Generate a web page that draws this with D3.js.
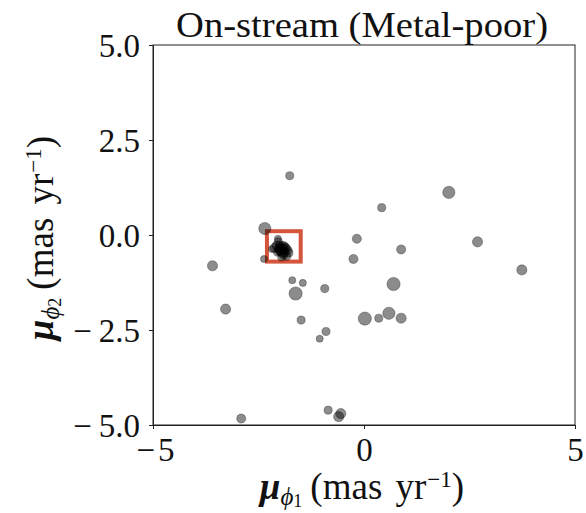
<!DOCTYPE html>
<html>
<head>
<meta charset="utf-8">
<script src="https://cdn.jsdelivr.net/npm/d3@7"></script>
<style>
  html, body { margin: 0; padding: 0; background: #fff; }
  svg text { font-family: "Liberation Serif", "DejaVu Serif", serif; fill: #111; }
</style>
</head>
<body>
<svg id="chart" width="586" height="513"></svg>
<script>
// Proper-motion components of member candidates (mas/yr)
const pmPhi1 = [
  -1.76, -2.35, -3.59, -2.04, -2.18, -2.37,
  -1.70, -1.45, -1.62, -0.93, -3.28, -1.49, -0.90, -1.05,
   2.01,  0.42, -0.17,  0.88, -0.25,  0.70,  0.02,  0.35,  0.59,  0.88,
   2.69,  3.74,
  -2.91, -0.85, -0.55, -0.60,
  // tight clump near the stream track
  -2.03, -2.12, -1.92, -1.98, -1.88, -1.85, -2.00, -1.90, -1.78, -1.95,
  -2.05, -1.83, -1.96, -2.08, -1.93, -1.99, -1.87, -1.94, -2.02, -1.80
];
const pmPhi2 = [
   1.56,  0.17, -0.81, -0.10, -0.37, -0.63,
  -1.19, -1.26, -1.54, -1.41, -1.95, -2.24, -2.54, -2.73,
   1.12,  0.72, -0.10, -0.38, -0.63, -1.29, -2.20, -2.19, -2.06, -2.19,
  -0.18, -0.92,
  -4.83, -4.61, -4.70, -4.78,
  -0.18, -0.34, -0.30, -0.40, -0.45, -0.35, -0.27, -0.52, -0.47, -0.58,
  -0.45, -0.56, -0.33, -0.28, -0.38, -0.42, -0.32, -0.46, -0.36, -0.40
];
// Relative marker weight (brightness proxy)
const weight = [
  16, 36, 25, 12, 12, 12,
  12, 12, 42, 16, 25, 16, 16, 12,
  36, 16, 20, 20, 20, 42, 42, 16, 36, 25,
  25, 25,
  20, 16, 25, 25,
  16, 20, 25, 25, 20, 20, 16, 20, 16, 16,
  16, 16, 25, 16, 25, 20, 20, 25, 16, 16
];
// Selection box in proper-motion space
const boxPhi1 = [-2.3, -1.5];
const boxPhi2 = [-0.7, 0.1];

const xTicks = [-5, 0, 5];
const yTicks = [-5.0, -2.5, 0.0, 2.5, 5.0];
const titleText = "On-stream (Metal-poor)";

const svg = d3.select("#chart");
const mLeft = 153, mRight = 575, mTop = 45, mBottom = 425;

const x = d3.scaleLinear().domain([-5, 5]).range([mLeft, mRight]);
const y = d3.scaleLinear().domain([-5, 5]).range([mBottom, mTop]);
const r = d3.scaleSqrt().domain([0, 42]).range([0, 6.6]);

// Frame
svg.append("rect")
  .attr("x", mLeft).attr("y", mTop)
  .attr("width", mRight - mLeft).attr("height", mBottom - mTop)
  .attr("fill", "none").attr("stroke", "#222").attr("stroke-width", 1);

// Axes
const xAxis = d3.axisBottom(x).tickValues(xTicks).tickSize(4).tickPadding(3)
  .tickFormat(d3.format("d"));
const yAxis = d3.axisLeft(y).tickValues(yTicks).tickSize(4).tickPadding(9)
  .tickFormat(d3.format(".1f"));

// typeset negative numbers with a wide minus sign followed by a small gap
function spacedMinus(gap) {
  return function () {
    const t = d3.select(this);
    const s = t.text();
    if (s.startsWith("-") || s.startsWith("\u2212")) {
      t.text("");
      t.append("tspan").text("\u2212");
      t.append("tspan").attr("dx", gap).text(s.slice(1));
    }
  };
}

const gx = svg.append("g").attr("transform", `translate(0,${mBottom})`).call(xAxis);
const gy = svg.append("g").attr("transform", `translate(${mLeft},0)`).call(yAxis);
[gx, gy].forEach(g => {
  g.select(".domain").attr("stroke", "#222");
  g.selectAll(".tick line").attr("stroke", "#222");
  g.selectAll(".tick text")
    .attr("font-family", "Liberation Serif, serif")
    .attr("font-size", 33).attr("fill", "#111");
});
gx.selectAll(".tick text").attr("dy", "0.88em").each(spacedMinus(3));
gx.selectAll(".tick text").filter(d => d < 0).attr("dx", 2);
gy.selectAll(".tick text").attr("dy", "0.35em").each(spacedMinus(7));

// Selection box
svg.append("rect")
  .attr("x", x(boxPhi1[0])).attr("y", y(boxPhi2[1]))
  .attr("width", x(boxPhi1[1]) - x(boxPhi1[0]))
  .attr("height", y(boxPhi2[0]) - y(boxPhi2[1]))
  .attr("fill", "none").attr("stroke", "#d4553b").attr("stroke-width", 4);

// Stars
svg.append("g").selectAll("circle")
  .data(pmPhi1.map((v, i) => ({ px: v, py: pmPhi2[i], w: weight[i] })))
  .join("circle")
  .attr("cx", d => x(d.px)).attr("cy", d => y(d.py)).attr("r", d => r(d.w))
  .attr("fill", "#000").attr("fill-opacity", 0.45)
  .attr("stroke", "#000").attr("stroke-opacity", 0.3).attr("stroke-width", 1);

// Title
svg.append("text")
  .attr("x", (mLeft + mRight) / 2 - 2).attr("y", 37)
  .attr("text-anchor", "middle").attr("font-size", 35)
  .attr("textLength", 372).attr("lengthAdjust", "spacingAndGlyphs")
  .text(titleText);

// Axis label builder: bold-italic mu with phi subscript, then units
function axisLabel(sel, sub) {
  sel.append("tspan").attr("font-style", "italic").attr("font-weight", "bold").text("\u03bc");
  sel.append("tspan").attr("font-style", "italic").attr("font-size", 25).attr("dy", 6).text("\u03d5");
  sel.append("tspan").attr("font-size", 18).attr("dy", 2).text(sub);
  sel.append("tspan").attr("dy", -8).attr("dx", 8).text("(mas yr");
  sel.append("tspan").attr("font-size", 23).attr("dy", -12).attr("dx", 1).text("\u22121");
  sel.append("tspan").attr("dy", 12).text(")");
}

const xl = svg.append("text")
  .attr("x", 362).attr("y", 499)
  .attr("text-anchor", "middle").attr("font-size", 37)
  .attr("word-spacing", 4);
axisLabel(xl, "1");

const yl = svg.append("text")
  .attr("transform", `translate(53,238) rotate(-90)`)
  .attr("text-anchor", "middle").attr("font-size", 37)
  .attr("word-spacing", 4);
axisLabel(yl, "2");
</script>
</body>
</html>
